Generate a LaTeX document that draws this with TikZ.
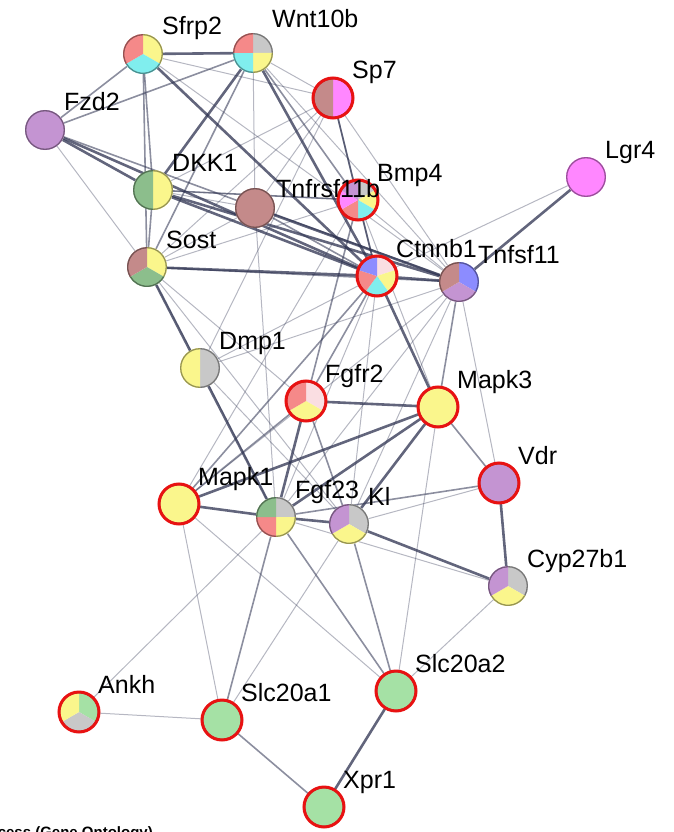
\documentclass[tikz,border=0pt]{standalone}
\usepackage{fontspec}
\setmainfont{Liberation Sans}
\usetikzlibrary{positioning}

\definecolor{sred}{RGB}{245,137,137}
\definecolor{spink}{RGB}{250,222,226}
\definecolor{syel}{RGB}{250,246,140}
\definecolor{scyan}{RGB}{128,238,238}
\definecolor{sgray}{RGB}{200,200,200}
\definecolor{sgreen}{RGB}{140,190,140}
\definecolor{slgreen}{RGB}{165,225,165}
\definecolor{sbrown}{RGB}{196,138,138}
\definecolor{spurple}{RGB}{196,148,210}
\definecolor{smag}{RGB}{255,135,255}
\definecolor{sblue}{RGB}{140,140,255}
\definecolor{edgec}{RGB}{45,50,80}
\definecolor{ring}{RGB}{232,18,18}

% pie: node, number of slices, colours clockwise from 12 o'clock
\newcommand{\pie}[3]{%
  \foreach \c [count=\i from 0] in {#3} {
    \pgfmathsetmacro\sa{90-\i*360/#2}
    \fill[\c] (#1.center) -- ++(\sa:20pt) arc[start angle=\sa, delta angle=-360/#2, radius=20pt] -- cycle;
    \draw[\c!60!black, line width=1.3pt] (#1.center) ++(\sa:19.3pt) arc[start angle=\sa, delta angle=-360/#2, radius=19.3pt];
  }}
\newcommand{\hit}[1]{\draw[ring, line width=3pt] (#1.center) circle[radius=20pt];}

\begin{document}
\begin{tikzpicture}[x=1pt, y=-1pt,
  prot/.style={circle, minimum size=40pt, inner sep=0pt},
  lab/.style={font=\fontsize{25}{28}\selectfont, inner sep=0pt, anchor=base west},
  weak/.style={edgec, line width=1pt, opacity=0.35},
  mid/.style={edgec, line width=1.6pt, opacity=0.55},
  strong/.style={edgec, line width=2.6pt, opacity=0.75}]
	\useasboundingbox (0,0) rectangle (674,832);

	% proteins
	\foreach \n/\x/\y in {sfrp2/143/54, wnt10b/253/53, fzd2/45/130, dkk1/153/190,
	    tnfrsf11b/255/208, sost/147/267, sp7/333/98, bmp4/358/200, ctnnb1/377/276,
	    tnfsf11/459/282, lgr4/586/177, dmp1/200/368, fgfr2/306/401, mapk1/179/504,
	    fgf23/276/517, kl/349/524, mapk3/438/407, vdr/499/483, cyp27b1/508/586,
	    ankh/79/712, slc20a1/222/720, slc20a2/396/691, xpr1/324/807}
	  \node[prot] (\n) at (\x,\y) {};

	% interactions
	\foreach \a/\b in {fzd2/sost, wnt10b/tnfrsf11b, wnt10b/sp7, wnt10b/tnfsf11, sfrp2/sp7,
	    sfrp2/tnfsf11, sp7/tnfsf11, sp7/sost, sp7/dkk1, sp7/dmp1, sp7/tnfrsf11b,
	    bmp4/sost, bmp4/dkk1, bmp4/tnfsf11, bmp4/mapk1, bmp4/mapk3, sost/tnfrsf11b,
	    sost/dmp1, sost/fgfr2, sost/kl, dkk1/tnfrsf11b, dmp1/fgf23, dmp1/ctnnb1,
	    dmp1/kl, dmp1/tnfsf11, tnfsf11/mapk1, tnfsf11/vdr, tnfsf11/kl, tnfsf11/fgf23,
	    ctnnb1/kl, ctnnb1/fgf23, lgr4/ctnnb1, kl/vdr, fgf23/cyp27b1,
	    mapk3/slc20a2, cyp27b1/slc20a2, slc20a1/mapk1, slc20a1/kl, slc20a2/mapk1,
	    ankh/fgf23, ankh/slc20a1, tnfrsf11b/fgf23}
	  \draw[weak] (\a) -- (\b);
	\foreach \a/\b in {sfrp2/fzd2, wnt10b/fzd2, sfrp2/dkk1, dkk1/sost, wnt10b/sost,
	    wnt10b/bmp4, sp7/bmp4, bmp4/ctnnb1, sost/tnfsf11, sp7/ctnnb1, tnfrsf11b/ctnnb1,
	    bmp4/fgfr2, ctnnb1/fgfr2, ctnnb1/mapk1, mapk1/fgfr2, tnfsf11/mapk3, mapk3/vdr,
	    fgf23/slc20a1, fgf23/slc20a2, kl/slc20a2, slc20a1/xpr1, fgf23/vdr, fzd2/tnfsf11,
	    sfrp2/sost, dkk1/bmp4, kl/fgfr2}
	  \draw[mid] (\a) -- (\b);
	\foreach \a/\b in {sfrp2/wnt10b, fzd2/dkk1, fzd2/ctnnb1, wnt10b/ctnnb1, wnt10b/dkk1,
	    sfrp2/ctnnb1, dkk1/ctnnb1, dkk1/tnfsf11, sost/ctnnb1, sost/fgf23, ctnnb1/tnfsf11,
	    tnfrsf11b/tnfsf11, ctnnb1/mapk3, lgr4/tnfsf11, fgfr2/mapk3, mapk1/mapk3,
	    fgf23/mapk1, fgf23/kl, fgf23/fgfr2, kl/cyp27b1, vdr/cyp27b1, slc20a2/xpr1,
	    kl/mapk3, fgf23/mapk3}
	  \draw[strong] (\a) -- (\b);

	% node colours
	\pie{sfrp2}{3}{syel,scyan,sred}
	\pie{wnt10b}{4}{sgray,syel,scyan,sred}
	\pie{fzd2}{1}{spurple}
	\pie{dkk1}{2}{syel,sgreen}
	\pie{tnfrsf11b}{1}{sbrown}
	\pie{sost}{3}{syel,sgreen,sbrown}
	\pie{sp7}{2}{smag,sbrown}
	\pie{bmp4}{6}{sgray,syel,scyan,sred,smag,spurple}
	\pie{ctnnb1}{5}{spink,syel,scyan,sred,sblue}
	\pie{tnfsf11}{3}{sblue,spurple,sbrown}
	\pie{lgr4}{1}{smag}
	\pie{dmp1}{2}{sgray,syel}
	\pie{fgfr2}{3}{spink,syel,sred}
	\pie{mapk1}{1}{syel}
	\pie{fgf23}{4}{sgray,syel,sred,sgreen}
	\pie{kl}{3}{sgray,syel,spurple}
	\pie{mapk3}{1}{syel}
	\pie{vdr}{1}{spurple}
	\pie{cyp27b1}{3}{sgray,syel,spurple}
	\pie{ankh}{3}{slgreen,sgray,syel}
	\pie{slc20a1}{1}{slgreen}
	\pie{slc20a2}{1}{slgreen}
	\pie{xpr1}{1}{slgreen}
	\foreach \n in {sp7,bmp4,ctnnb1,fgfr2,mapk1,mapk3,vdr,ankh,slc20a1,slc20a2,xpr1}
	  {\hit{\n}}

	% names
	\foreach \n/\t in {sfrp2/Sfrp2, fzd2/Fzd2, dkk1/DKK1, sost/Sost, sp7/Sp7,
	    bmp4/Bmp4, ctnnb1/Ctnnb1, tnfsf11/Tnfsf11, lgr4/Lgr4, dmp1/Dmp1, fgfr2/Fgfr2,
	    mapk1/Mapk1, fgf23/Fgf23, kl/Kl, mapk3/Mapk3, vdr/Vdr, cyp27b1/Cyp27b1,
	    ankh/Ankh, slc20a1/Slc20a1, slc20a2/Slc20a2, xpr1/Xpr1}
	  \node[lab] (\n-name) at ([shift={(19pt,19pt)}]\n.center) {\t};
	\node[lab] (wnt10b-name) at ([shift={(19pt,25pt)}]wnt10b.center) {Wnt10b};
	\node[lab] (tnfrsf11b-name) at ([shift={(21pt,11pt)}]tnfrsf11b.center) {Tnfrsf11b};

	\node[font=\bfseries\fontsize{15}{17}\selectfont, inner sep=0pt, anchor=base east] (legend) at (153,837) {Biological Process (Gene Ontology)};
\end{tikzpicture}
\end{document}
